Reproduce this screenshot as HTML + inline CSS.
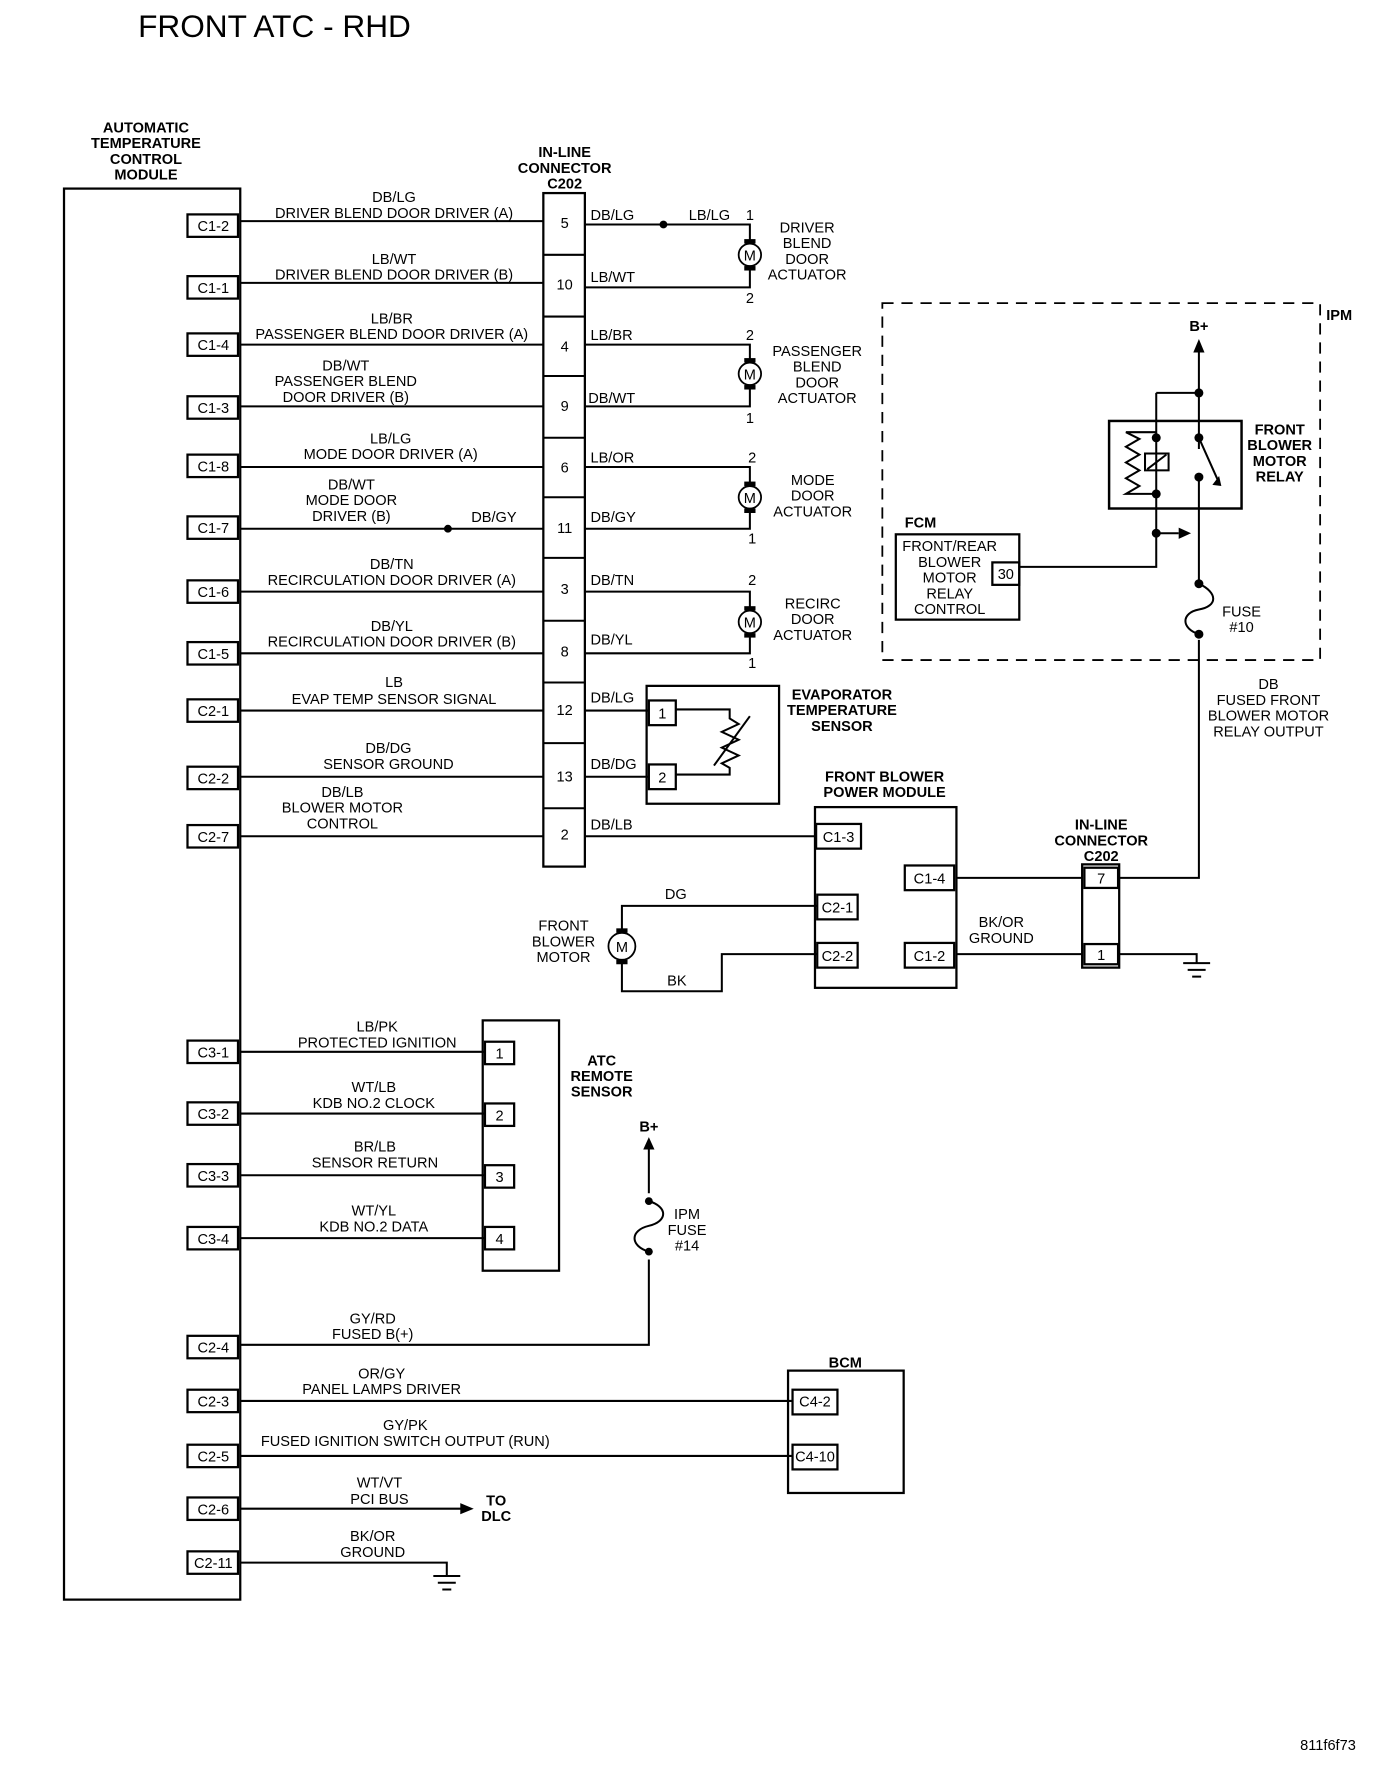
<!DOCTYPE html>
<html><head><meta charset="utf-8"><style>
html,body{margin:0;padding:0;background:#fff}
svg{display:block}
text{font-family:"Liberation Sans",sans-serif;font-size:13px;fill:#000;text-anchor:middle}
.b{font-weight:bold}
.l{text-anchor:start}
</style></head><body>
<svg width="1392" height="1768" viewBox="0 0 1240 1575" xmlns="http://www.w3.org/2000/svg">
<g stroke="#000" stroke-width="1.8" fill="none">
<rect x="57" y="168" width="157" height="1257" stroke-width="2"/>
<path d="M214 197H484M214 252H484M214 307H484M214 362H484M214 416H484M214 471H484M214 527H484M214 582H484M214 633H484M214 692H484M214 745H484"/>
<path d="M214 937H432M214 992H432M214 1047H432M214 1103H432"/>
<path d="M214 1198H578V1122M578 1063V1020"/>
<path d="M214 1248H706M214 1297H706M214 1344H412M214 1392H398V1404"/>
<rect x="484" y="172" width="37" height="600" stroke-width="2"/>
<path d="M484 227H521M484 282H521M484 335H521M484 390H521M484 443H521M484 497H521M484 553H521M484 608H521M484 662H521M484 720H521"/>
<path d="M521 200H668V217M668 237V256H521"/>
<path d="M521 307H668V323M668 343V362H521"/>
<path d="M521 416H668V433M668 453V471H521"/>
<path d="M521 527H668V544M668 564V582H521"/>
<rect x="576" y="611" width="118" height="105" stroke-width="2"/>
<path d="M521 633H578M521 692H578"/>
<path d="M602 632H650V640L658 645L643 652L658 659L643 666L658 673L643 680L650 684V690H602"/>
<path d="M636 682L668 638"/>
<rect x="726" y="719" width="126" height="161" stroke-width="2"/>
<path d="M521 745H727"/>
<path d="M554 831V807H728M554 855V883H643V850H728"/>
<path d="M852 782H964M852 850H964M997 782H1068V570M997 850H1066V858M1054 858H1078M1058 864H1074M1062 870H1070"/>
<rect x="964" y="770" width="33" height="92" stroke-width="2"/>
<rect x="786" y="270" width="390" height="318" stroke-dasharray="10 7" stroke-width="1.6"/>
<path d="M1068 312V400M1030 350H1068M1030 350V505H908M1030 475H1050"/>
<rect x="988" y="375" width="118" height="78" stroke-width="2.2"/>
<path d="M1030 385H1003L1015 391L1003 398L1015 405L1003 412L1015 419L1003 426L1015 433L1003 440H1030"/>
<rect x="1020" y="404" width="21" height="15"/>
<path d="M1022 418L1039 405"/>
<path d="M1068 390L1085 428"/>
<path d="M1068 425V520"/>
<path d="M1068 520C1085 528 1085 540 1068 543C1052 546 1052 560 1068 565"/>
<rect x="798" y="476" width="110" height="76" stroke-width="2"/>
<rect x="884" y="501" width="24" height="20" stroke-width="2"/>
<rect x="430" y="909" width="68" height="223" stroke-width="2"/>
<path d="M578 1070C595 1075 595 1088 578 1092C561 1096 561 1110 578 1115"/>
<rect x="702" y="1221" width="103" height="109" stroke-width="2"/>
<path d="M386 1404H410M390 1410H406M394 1416H402"/>
</g>
<g fill="#000">
<circle cx="591" cy="200" r="3.5"/><circle cx="399" cy="471" r="3.5"/>
<circle cx="1068" cy="350" r="4"/><circle cx="1030" cy="390" r="4"/><circle cx="1030" cy="440" r="4"/>
<circle cx="1068" cy="390" r="4"/><circle cx="1068" cy="425" r="4"/><circle cx="1030" cy="475" r="4"/>
<circle cx="1068" cy="520" r="4"/><circle cx="1068" cy="565" r="4"/>
<circle cx="578" cy="1070" r="3.5"/><circle cx="578" cy="1115" r="3.5"/>
<path d="M1063 314L1068 302L1073 314Z"/><path d="M573 1024L578 1013L583 1024Z"/>
<path d="M1050 470L1061 475L1050 480Z"/><path d="M410 1339L422 1344L410 1349Z"/>
<path d="M1080 432L1088 433L1086 424Z"/>
</g>
<g stroke="#000" stroke-width="1.6" fill="#fff">
<circle cx="668" cy="227" r="10"/><circle cx="668" cy="333" r="10"/><circle cx="668" cy="443" r="10"/><circle cx="668" cy="554" r="10"/>
<circle cx="554" cy="843" r="12"/>
</g>
<g fill="#000"><rect x="663" y="213" width="10" height="4"/><rect x="663" y="237" width="10" height="4"/>
<rect x="663" y="319" width="10" height="4"/><rect x="663" y="343" width="10" height="4"/>
<rect x="663" y="429" width="10" height="4"/><rect x="663" y="453" width="10" height="4"/>
<rect x="663" y="540" width="10" height="4"/><rect x="663" y="564" width="10" height="4"/>
<rect x="549" y="827" width="10" height="4"/><rect x="549" y="855" width="10" height="4"/></g>
<g font-size="14"><text x="668" y="232">M</text><text x="668" y="338">M</text><text x="668" y="448">M</text><text x="668" y="559">M</text><text x="554" y="848">M</text></g>
<g stroke="#000" stroke-width="2" fill="#fff">
<rect x="167" y="191" width="45" height="20"/><rect x="167" y="246" width="45" height="20"/><rect x="167" y="297" width="45" height="20"/>
<rect x="167" y="353" width="45" height="20"/><rect x="167" y="405" width="45" height="20"/><rect x="167" y="460" width="45" height="20"/>
<rect x="167" y="517" width="45" height="20"/><rect x="167" y="572" width="45" height="20"/><rect x="167" y="623" width="45" height="20"/>
<rect x="167" y="683" width="45" height="20"/><rect x="167" y="735" width="45" height="20"/>
<rect x="167" y="927" width="45" height="20"/><rect x="167" y="982" width="45" height="20"/><rect x="167" y="1037" width="45" height="20"/>
<rect x="167" y="1093" width="45" height="20"/><rect x="167" y="1190" width="45" height="20"/><rect x="167" y="1238" width="45" height="20"/>
<rect x="167" y="1287" width="45" height="20"/><rect x="167" y="1334" width="45" height="20"/><rect x="167" y="1382" width="45" height="20"/>
<rect x="578" y="624" width="24" height="22"/><rect x="578" y="681" width="24" height="22"/>
<rect x="727" y="734" width="40" height="22"/><rect x="728" y="797" width="36" height="22"/><rect x="728" y="840" width="36" height="22"/>
<rect x="806" y="771" width="44" height="22"/><rect x="806" y="840" width="44" height="22"/>
<rect x="966" y="773" width="30" height="18"/><rect x="966" y="841" width="30" height="18"/>
<rect x="432" y="928" width="26" height="20"/><rect x="432" y="983" width="26" height="20"/><rect x="432" y="1038" width="26" height="20"/><rect x="432" y="1093" width="26" height="20"/>
<rect x="706" y="1238" width="40" height="22"/><rect x="706" y="1287" width="40" height="22"/>
</g>
<g>
<text x="190" y="206">C1-2</text><text x="190" y="261">C1-1</text><text x="190" y="312">C1-4</text><text x="190" y="368">C1-3</text>
<text x="190" y="420">C1-8</text><text x="190" y="475">C1-7</text><text x="190" y="532">C1-6</text><text x="190" y="587">C1-5</text>
<text x="190" y="638">C2-1</text><text x="190" y="698">C2-2</text><text x="190" y="750">C2-7</text>
<text x="190" y="942">C3-1</text><text x="190" y="997">C3-2</text><text x="190" y="1052">C3-3</text><text x="190" y="1108">C3-4</text>
<text x="190" y="1205">C2-4</text><text x="190" y="1253">C2-3</text><text x="190" y="1302">C2-5</text><text x="190" y="1349">C2-6</text><text x="190" y="1397">C2-11</text>
<text x="503" y="203">5</text><text x="503" y="258">10</text><text x="503" y="313">4</text><text x="503" y="366">9</text><text x="503" y="421">6</text><text x="503" y="475">11</text>
<text x="503" y="529">3</text><text x="503" y="585">8</text><text x="503" y="637">12</text><text x="503" y="696">13</text><text x="503" y="748">2</text>
<text x="590" y="640">1</text><text x="590" y="697">2</text>
<text x="747" y="750">C1-3</text><text x="746" y="813">C2-1</text><text x="746" y="856">C2-2</text><text x="828" y="787">C1-4</text><text x="828" y="856">C1-2</text>
<text x="981" y="787">7</text><text x="981" y="855">1</text>
<text x="445" y="943">1</text><text x="445" y="998">2</text><text x="445" y="1053">3</text><text x="445" y="1108">4</text>
<text x="726" y="1253">C4-2</text><text x="726" y="1302">C4-10</text><text x="896" y="516">30</text>
<text x="351" y="180">DB/LG</text><text x="351" y="194">DRIVER BLEND DOOR DRIVER (A)</text>
<text x="351" y="235">LB/WT</text><text x="351" y="249">DRIVER BLEND DOOR DRIVER (B)</text>
<text x="349" y="288">LB/BR</text><text x="349" y="302">PASSENGER BLEND DOOR DRIVER (A)</text>
<text x="308" y="330">DB/WT</text><text x="308" y="344">PASSENGER BLEND</text><text x="308" y="358">DOOR DRIVER (B)</text>
<text x="348" y="395">LB/LG</text><text x="348" y="409">MODE DOOR DRIVER (A)</text>
<text x="313" y="436">DB/WT</text><text x="313" y="450">MODE DOOR</text><text x="313" y="464">DRIVER (B)</text><text x="440" y="465">DB/GY</text>
<text x="349" y="507">DB/TN</text><text x="349" y="521">RECIRCULATION DOOR DRIVER (A)</text>
<text x="349" y="562">DB/YL</text><text x="349" y="576">RECIRCULATION DOOR DRIVER (B)</text>
<text x="351" y="612">LB</text><text x="351" y="627">EVAP TEMP SENSOR SIGNAL</text>
<text x="346" y="671">DB/DG</text><text x="346" y="685">SENSOR GROUND</text>
<text x="305" y="710">DB/LB</text><text x="305" y="724">BLOWER MOTOR</text><text x="305" y="738">CONTROL</text>
<text x="336" y="919">LB/PK</text><text x="336" y="933">PROTECTED IGNITION</text>
<text x="333" y="973">WT/LB</text><text x="333" y="987">KDB NO.2 CLOCK</text>
<text x="334" y="1026">BR/LB</text><text x="334" y="1040">SENSOR RETURN</text>
<text x="333" y="1083">WT/YL</text><text x="333" y="1097">KDB NO.2 DATA</text>
<text x="332" y="1179">GY/RD</text><text x="332" y="1193">FUSED B(+)</text>
<text x="340" y="1228">OR/GY</text><text x="340" y="1242">PANEL LAMPS DRIVER</text>
<text x="361" y="1274">GY/PK</text><text x="361" y="1288">FUSED IGNITION SWITCH  OUTPUT (RUN)</text>
<text x="338" y="1325">WT/VT</text><text x="338" y="1340">PCI BUS</text>
<text x="332" y="1373">BK/OR</text><text x="332" y="1387">GROUND</text>
<text class="l" x="526" y="196">DB/LG</text><text class="l" x="526" y="251">LB/WT</text><text class="l" x="526" y="303">LB/BR</text><text class="l" x="524" y="359">DB/WT</text>
<text class="l" x="526" y="412">LB/OR</text><text class="l" x="526" y="465">DB/GY</text><text class="l" x="526" y="521">DB/TN</text><text class="l" x="526" y="574">DB/YL</text>
<text class="l" x="526" y="626">DB/LG</text><text class="l" x="526" y="685">DB/DG</text><text class="l" x="526" y="739">DB/LB</text>
<text x="632" y="196">LB/LG</text>
<text x="668" y="196">1</text><text x="668" y="270">2</text><text x="668" y="303">2</text><text x="668" y="377">1</text>
<text x="670" y="412">2</text><text x="670" y="484">1</text><text x="670" y="521">2</text><text x="670" y="595">1</text>
<text x="719" y="207">DRIVER</text><text x="719" y="221">BLEND</text><text x="719" y="235">DOOR</text><text x="719" y="249">ACTUATOR</text>
<text x="728" y="317">PASSENGER</text><text x="728" y="331">BLEND</text><text x="728" y="345">DOOR</text><text x="728" y="359">ACTUATOR</text>
<text x="724" y="432">MODE</text><text x="724" y="446">DOOR</text><text x="724" y="460">ACTUATOR</text>
<text x="724" y="542">RECIRC</text><text x="724" y="556">DOOR</text><text x="724" y="570">ACTUATOR</text>
<text x="602" y="801">DG</text><text x="603" y="878">BK</text>
<text x="502" y="829">FRONT</text><text x="502" y="843">BLOWER</text><text x="502" y="857">MOTOR</text>
<text x="892" y="826">BK/OR</text><text x="892" y="840">GROUND</text>
<text x="1068" y="295" class="b">B+</text><text x="578" y="1008" class="b">B+</text>
<text x="1106" y="549">FUSE</text><text x="1106" y="563">#10</text>
<text x="1130" y="614">DB</text><text x="1130" y="628">FUSED FRONT</text><text x="1130" y="642">BLOWER MOTOR</text><text x="1130" y="656">RELAY OUTPUT</text>
<text x="846" y="491">FRONT/REAR</text><text x="846" y="505">BLOWER</text><text x="846" y="519">MOTOR</text><text x="846" y="533">RELAY</text><text x="846" y="547">CONTROL</text>
<text x="612" y="1086">IPM</text><text x="612" y="1100">FUSE</text><text x="612" y="1114">#14</text>
<text x="1183" y="1559">811f6f73</text>
</g>
<g>
<text class="b" x="130" y="118">AUTOMATIC</text><text class="b" x="130" y="132">TEMPERATURE</text><text class="b" x="130" y="146">CONTROL</text><text class="b" x="130" y="160">MODULE</text>
<text class="b" x="503" y="140">IN-LINE</text><text class="b" x="503" y="154">CONNECTOR</text><text class="b" x="503" y="168">C202</text>
<text class="b" x="750" y="623">EVAPORATOR</text><text class="b" x="750" y="637">TEMPERATURE</text><text class="b" x="750" y="651">SENSOR</text>
<text class="b" x="788" y="696">FRONT BLOWER</text><text class="b" x="788" y="710">POWER MODULE</text>
<text class="b" x="981" y="739">IN-LINE</text><text class="b" x="981" y="753">CONNECTOR</text><text class="b" x="981" y="767">C202</text>
<text class="b" x="1193" y="285">IPM</text>
<text class="b" x="1140" y="387">FRONT</text><text class="b" x="1140" y="401">BLOWER</text><text class="b" x="1140" y="415">MOTOR</text><text class="b" x="1140" y="429">RELAY</text>
<text class="b" x="820" y="470">FCM</text>
<text class="b" x="536" y="949">ATC</text><text class="b" x="536" y="963">REMOTE</text><text class="b" x="536" y="977">SENSOR</text>
<text class="b" x="753" y="1218">BCM</text>
<text class="b" x="442" y="1341">TO</text><text class="b" x="442" y="1355">DLC</text>
</g>
<text class="l" x="123" y="33" textLength="243" lengthAdjust="spacingAndGlyphs" style="font-size:28px">FRONT ATC - RHD</text>
</svg>
</body></html>
